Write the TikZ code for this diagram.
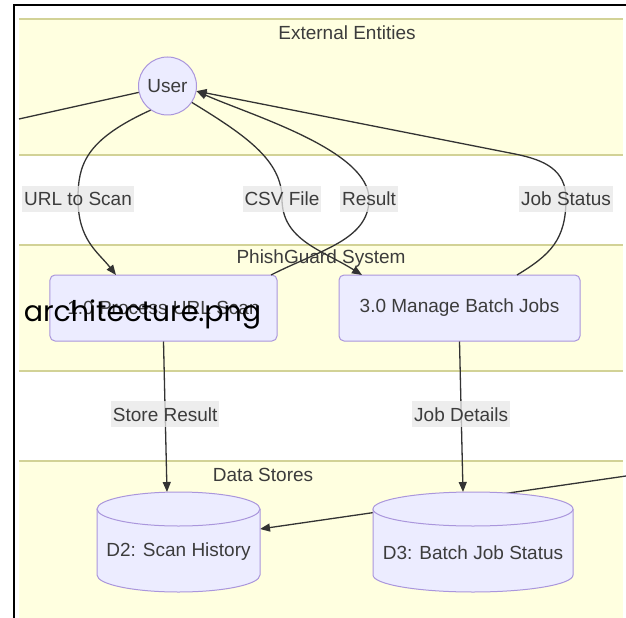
\documentclass[tikz,border=0pt]{standalone}
\usepackage{fontspec}
\setmainfont{Liberation Sans}
\newfontfamily\overlayfont{Poppins}
\usetikzlibrary{arrows.meta}
\definecolor{bandfill}{RGB}{255,255,224}
\definecolor{bandline}{RGB}{210,210,150}
\definecolor{nodefill}{RGB}{236,236,255}
\definecolor{nodeline}{RGB}{170,150,220}
\definecolor{edgecol}{RGB}{51,51,51}
\definecolor{lblfill}{RGB}{232,232,232}
\definecolor{txtcol}{RGB}{60,60,60}
\begin{document}
\begin{tikzpicture}[x=1bp,y=-1bp,
  every node/.style={font=\fontsize{19bp}{22bp}\selectfont, text=txtcol, inner sep=0pt},
  bandedge/.style={draw=bandline, line width=1.3bp},
  proc/.style={draw=nodeline, fill=nodefill, rounded corners=5bp, line width=1bp, minimum width=227bp, minimum height=66bp},
  ent/.style={circle, draw=nodeline, fill=nodefill, line width=1bp, minimum size=58bp},
  flow/.style={draw=edgecol, line width=1.3bp},
  arr/.style={flow, -{Triangle[length=10bp,width=8bp]}},
  lbl/.style={fill=lblfill, fill opacity=0.75, text opacity=1, inner xsep=2bp, minimum height=26bp},
  store/.style={draw=nodeline, line width=1bp},
]
\useasboundingbox (0,0) rectangle (626,618);
\fill[white] (0,0) rectangle (626,618);
% frame
\draw[black, line width=2.2bp] (13.7,618) -- (13.7,5) -- (626,5);
% bands
\fill[bandfill] (19,19) rectangle (623,155);
\draw[bandedge] (19,19) -- (623,19) (19,155) -- (623,155);
\fill[bandfill] (19,245) rectangle (623,371);
\draw[bandedge] (19,245) -- (623,245) (19,371) -- (623,371);
\fill[bandfill] (19,461) rectangle (623,618);
\draw[bandedge] (19,461) -- (623,461);
\node (t1) at (347,33) {External Entities};
\node (t2) at (321,259) {PhishGuard System};
\node (t3) at (263,475) {Data Stores};
% nodes
\node[ent] (user) at (167.5,86) {User};
\node[proc] (p1) at (163.5,308) {1.0 Process URL Scan};
\node[proc, minimum width=241bp] (p2) at (459.5,308) {3.0 Manage Batch Jobs};
% attach points
\coordinate (lft) at (19,119);
\coordinate (rgt) at (626,476);
\coordinate (p1in) at (116,275);
\coordinate (p1out) at (271,275);
\coordinate (p2in) at (362,275);
\coordinate (p2out) at (517,275);
\coordinate (d2top) at (167,492);
\coordinate (d2side) at (260,529);
\coordinate (d3top) at (463,492);
% edges
\draw[flow] (user) -- (lft);
\draw[flow, -{Triangle[length=10bp,width=8bp]}] (rgt) -- (d2side);
\draw[arr] (user.235) .. controls (85,140) and (78,165) .. (78,199) node[lbl] (l1) {URL to Scan} .. controls (78,240) and (98,252) .. (p1in);
\draw[arr] (user.-34) .. controls (245,135) and (282,160) .. (282,199) node[lbl] (l2) {CSV File} .. controls (282,240) and (322,250) .. (p2in);
\draw[arr] (p1out) .. controls (320,250) and (369,240) .. (369,199) node[lbl] (l3) {Result} .. controls (369,150) and (250,115) .. (user.-10);
\draw[arr] (p2out) .. controls (550,255) and (566,240) .. (566,199) node[lbl] (l4) {Job Status} .. controls (566,170) and (545,160) .. (515,154) -- (user.-10);
\draw[arr] (p1.south) -- (d2top) node[lbl,pos=0.485] (l5) {Store Result};
\draw[arr] (p2.south) -- (d3top) node[lbl,pos=0.485] (l6) {Job Details};
% cylinder D2
\fill[nodefill] (97,509) -- (97,575) .. controls (97,584.4) and (133.5,592) .. (178.5,592) .. controls (223.5,592) and (260,584.4) .. (260,575) -- (260,509) -- cycle;
\draw[store] (97,509) -- (97,575) .. controls (97,584.4) and (133.5,592) .. (178.5,592) .. controls (223.5,592) and (260,584.4) .. (260,575) -- (260,509);
\draw[store, fill=nodefill] (178.5,509) ellipse [x radius=81.5bp, y radius=17bp];
\node (d2) at (178.5,552) {D2: Scan History};
% cylinder D3
\fill[nodefill] (373,509) -- (373,575) .. controls (373,584.4) and (417.8,592) .. (473,592) .. controls (528.2,592) and (573,584.4) .. (573,575) -- (573,509) -- cycle;
\draw[store] (373,509) -- (373,575) .. controls (373,584.4) and (417.8,592) .. (473,592) .. controls (528.2,592) and (573,584.4) .. (573,575) -- (573,509);
\draw[store, fill=nodefill] (473,509) ellipse [x radius=100bp, y radius=17bp];
\node (d3) at (473,553) {D3: Batch Job Status};
% overlay caption
\node[font=\overlayfont\fontsize{28.5bp}{32bp}\selectfont, text=black, anchor=base] (ov) at (142.5,321) {architecture.png};
\end{tikzpicture}
\end{document}
